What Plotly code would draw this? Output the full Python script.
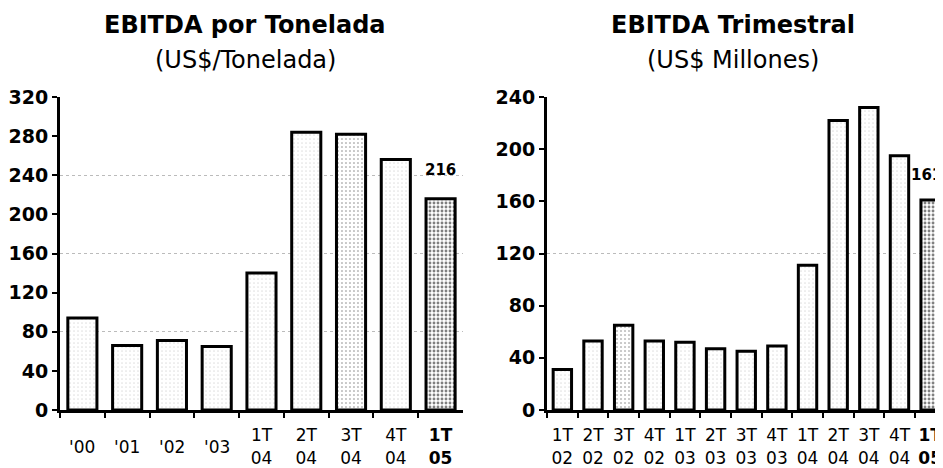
import plotly.graph_objects as go
from plotly.subplots import make_subplots

# EBITDA por tonelada (US$/t)
ton_categories = ["'00", "'01", "'02", "'03", "1T 04", "2T 04", "3T 04", "4T 04", "1T 05"]
ton_values = [94, 66, 71, 65, 140, 284, 282, 256, 216]

# EBITDA trimestral (US$ millones)
qtr_categories = ["1T 02", "2T 02", "3T 02", "4T 02", "1T 03", "2T 03", "3T 03",
                  "4T 03", "1T 04", "2T 04", "3T 04", "4T 04", "1T 05"]
qtr_values = [31, 53, 65, 53, 52, 47, 45, 49, 111, 222, 232, 195, 161]

ton_ticks = [0, 40, 80, 120, 160, 200, 240, 280, 320]
qtr_ticks = [0, 40, 80, 120, 160, 200, 240]

FONT = "DejaVu Sans"


def tick_text(cats):
    # two-line labels go on the axis; single-line ones are centred by hand below
    out = [c.replace(" ", "<br>") if " " in c else "" for c in cats]
    out[-1] = "<b>" + out[-1] + "</b>"
    return out


def speckle(n, medium=()):
    # sparse black dots, denser on the latest quarter
    solidity = [0.04] * n
    for i in medium:
        solidity[i] = 0.12
    solidity[-1] = 0.4
    return solidity


fig = make_subplots(rows=1, cols=2)

fig.add_trace(
    go.Bar(
        x=ton_categories,
        y=ton_values,
        width=0.65,
        marker=dict(
            color="white",
            line=dict(color="black", width=3),
            pattern=dict(shape=".", fgcolor="black", bgcolor="white", size=4,
                         solidity=speckle(len(ton_values), medium=(6,))),
        ),
        showlegend=False,
    ),
    row=1, col=1,
)

fig.add_trace(
    go.Bar(
        x=qtr_categories,
        y=qtr_values,
        width=0.6,
        marker=dict(
            color="white",
            line=dict(color="black", width=3),
            pattern=dict(shape=".", fgcolor="black", bgcolor="white", size=4,
                         solidity=speckle(len(qtr_values), medium=(2,))),
        ),
        showlegend=False,
    ),
    row=1, col=2,
)

# single-line year labels, vertically centred against the two-line ones
for c in ton_categories:
    if " " not in c:
        fig.add_annotation(x=c, y=0, xref="x", yref="y", yshift=-37,
                           yanchor="middle", text=c, showarrow=False,
                           font=dict(family=FONT, size=17, color="black"))

# value labels on the last bar
fig.add_annotation(x=ton_categories[-1], y=ton_values[-1], xref="x", yref="y",
                   text="<b>%d</b>" % ton_values[-1], showarrow=False, yshift=29,
                   font=dict(family=FONT, size=15, color="black"))
fig.add_annotation(x=qtr_categories[-1], y=qtr_values[-1], xref="x2", yref="y2",
                   text="<b>%d</b>" % qtr_values[-1], showarrow=False,
                   yshift=25, xshift=-4,
                   font=dict(family=FONT, size=15, color="black"))

# titles (page has an 8px body margin, so the figure is 935x460)
for xc, t1, t2 in [(0.2535, "EBITDA por Tonelada", "(US$/Tonelada)"),
                   (0.7754, "EBITDA Trimestral", "(US$ Millones)")]:
    fig.add_annotation(x=xc, y=1, xref="paper", yref="paper", yshift=72,
                       xanchor="center", yanchor="middle",
                       text="<b>%s</b>" % t1, showarrow=False,
                       font=dict(family=FONT, size=24, color="black"))
    fig.add_annotation(x=xc, y=1, xref="paper", yref="paper", yshift=37,
                       xanchor="center", yanchor="middle",
                       text=t2, showarrow=False,
                       font=dict(family=FONT, size=24, color="black"))

axis_common = dict(
    showline=True, linecolor="black", linewidth=3,
    ticks="outside", tickcolor="black", tickwidth=2, ticklen=5,
    showgrid=False, zeroline=False, automargin=False,
)

fig.update_xaxes(
    **axis_common,
    tickson="boundaries",
    tickangle=0,
    ticklabelstandoff=8,
    tickfont=dict(family=FONT, size=17, color="black"),
)
fig.update_yaxes(
    **axis_common,
    tickfont=dict(family=FONT, size=19, color="black"),
)

fig.update_xaxes(domain=[0.0556, 0.4866], range=[-0.5, 8.5],
                 tickvals=ton_categories, ticktext=tick_text(ton_categories),
                 row=1, col=1)
fig.update_xaxes(domain=[0.5765, 1.0], range=[-0.5, 12.42],
                 tickvals=qtr_categories, ticktext=tick_text(qtr_categories),
                 row=1, col=2)

fig.update_yaxes(range=[0, 320], tickvals=ton_ticks,
                 ticktext=["<b>%d</b>" % v for v in ton_ticks],
                 minor=dict(dtick=80, showgrid=True, gridcolor="#bbb",
                            griddash="dot", gridwidth=1, ticks=""),
                 row=1, col=1)
fig.update_yaxes(range=[0, 240], tickvals=qtr_ticks,
                 ticktext=["<b>%d</b>" % v for v in qtr_ticks],
                 minor=dict(dtick=120, showgrid=True, gridcolor="#bbb",
                            griddash="dot", gridwidth=1, ticks=""),
                 row=1, col=2)

fig.update_layout(
    width=935,
    height=460,
    margin=dict(l=0, r=0, t=89, b=58),
    paper_bgcolor="white",
    plot_bgcolor="white",
    font=dict(family=FONT, color="black"),
    bargap=0.35,
)

fig.write_html("out.html")
